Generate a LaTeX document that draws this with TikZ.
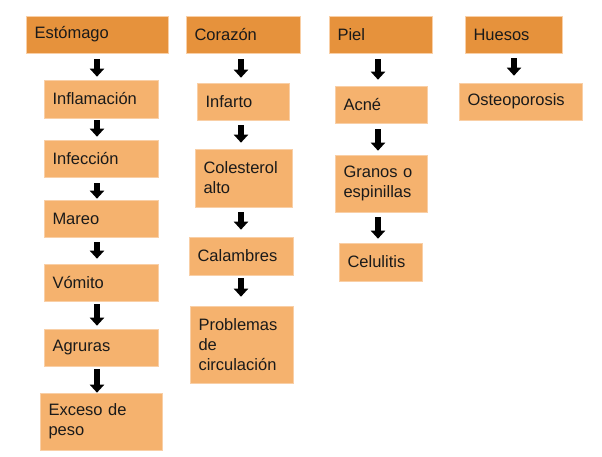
\documentclass[tikz,border=0pt]{standalone}
\usepackage{fontspec}
\setmainfont{Liberation Sans}
\usetikzlibrary{arrows.meta,calc}
\definecolor{hdr}{HTML}{E6923C}
\definecolor{bod}{HTML}{F5B26E}
\definecolor{edge}{HTML}{F9CFA6}
\definecolor{ink}{HTML}{1A1A1A}
\newcommand{\myarr}[5]{\draw[barrow, shorten <=#4pt, shorten >=#5pt] (#1.south -| #3) -- (#2.north -| #3);}
\begin{document}
\begin{tikzpicture}[x=1pt,y=-1pt,
  every node/.style={font=\fontsize{16.5}{20}\selectfont, text=ink},
  basebox/.style={rectangle, draw=edge, line width=0.6pt, inner xsep=8.5pt, inner ysep=0pt, align=left, anchor=center},
  hbox/.style={basebox, fill=hdr},
  bbox/.style={basebox, fill=bod},
  barrow/.style={draw=black, line width=5.5pt, -{Triangle[width=14pt,length=8pt]}}]
\useasboundingbox (0,0) rectangle (602,457);
\coordinate (xS) at (97,0);
\coordinate (xC) at (241,0);
\coordinate (xP) at (378,0);
\coordinate (xH) at (514,0);
% headers
\node[hbox, minimum width=142pt, minimum height=37pt, text width=125pt] (E) at (97,34.5) {Estómago};
\node[hbox, minimum width=114pt, minimum height=37pt, text width=97pt] (C) at (243,34.5) {Corazón};
\node[hbox, minimum width=103pt, minimum height=37pt, text width=86pt] (P) at (380.5,34.5) {Piel};
\node[hbox, minimum width=97pt, minimum height=37pt, text width=80pt] (H) at (513.5,34.5) {Huesos};
% stomach
\node[bbox, minimum width=114pt, minimum height=38pt, text width=97pt] (s1) at (101,99) {Inflamación};
\node[bbox, minimum width=114pt, minimum height=37pt, text width=97pt] (s2) at (101,158.5) {Infección};
\node[bbox, minimum width=114pt, minimum height=37pt, text width=97pt] (s3) at (101,218.5) {Mareo};
\node[bbox, minimum width=114pt, minimum height=37pt, text width=97pt] (s4) at (101,282.5) {Vómito};
\node[bbox, minimum width=114pt, minimum height=37pt, text width=97pt] (s5) at (101,347.5) {Agruras};
\node[bbox, minimum width=122pt, minimum height=57pt, text width=105pt] (s6) at (101,421.5) {Exceso de\\peso};
% heart
\node[bbox, minimum width=92pt, minimum height=37pt, text width=75pt] (c1) at (243,101.5) {Infarto};
\node[bbox, minimum width=97pt, minimum height=58pt, text width=80pt] (c2) at (243.5,178) {Colesterol\\alto};
\node[bbox, minimum width=104pt, minimum height=38pt, text width=87pt] (c3) at (241,256) {Calambres};
\node[bbox, minimum width=103pt, minimum height=77pt, text width=86pt] (c4) at (241.5,344.5) {Problemas\\de\\circulación};
% skin
\node[bbox, minimum width=92pt, minimum height=37pt, text width=75pt] (p1) at (381,104.5) {Acné};
\node[bbox, minimum width=92pt, minimum height=57pt, text width=75pt] (p2) at (381,183.5) {Granos o\\espinillas};
\node[bbox, minimum width=83pt, minimum height=38pt, text width=66pt] (p3) at (380.5,262) {Celulitis};
% bones
\node[bbox, minimum width=123pt, minimum height=37pt, text width=106pt] (h1) at (520.5,101.5) {Osteoporosis};
% arrows
\myarr{E}{s1}{xS}{6}{3}
\myarr{s1}{s2}{xS}{2}{3}
\myarr{s2}{s3}{xS}{6}{1}
\myarr{s3}{s4}{xS}{5}{5}
\myarr{s4}{s5}{xS}{3}{3}
\myarr{s5}{s6}{xS}{3}{0}
\myarr{C}{c1}{xC}{6}{5}
\myarr{c1}{c2}{xC}{5}{6}
\myarr{c2}{c3}{xC}{5}{7}
\myarr{c3}{c4}{xC}{3}{9}
\myarr{P}{p1}{xP}{6}{6}
\myarr{p1}{p2}{xP}{6}{4}
\myarr{p2}{p3}{xP}{5}{4}
\myarr{H}{h1}{xH}{5}{7}
\end{tikzpicture}
\end{document}
